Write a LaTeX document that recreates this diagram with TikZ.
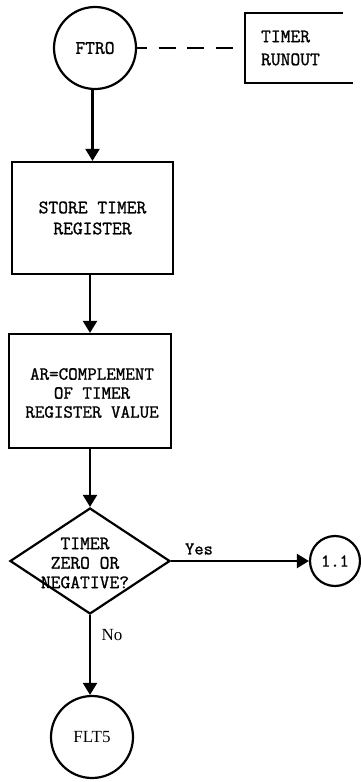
\documentclass[tikz,border=0pt]{standalone}
\usepackage{fontspec}
\newfontfamily\monof{Latin Modern Mono}[FakeBold=1.2]
\newfontfamily\seriff{Liberation Serif}
\usetikzlibrary{arrows.meta,shapes.geometric}
\begin{document}
\begin{tikzpicture}[x=1pt,y=-1pt,line width=2.2pt,
  arr/.style={-{Triangle[width=14pt,length=12pt]}},
  procbox/.style={draw,rectangle,inner sep=0pt,align=center},
  conn/.style={draw,circle,inner sep=0pt},
  txt/.style={inner sep=0pt,align=center}]
\useasboundingbox (0,0) rectangle (360,782);

% start connector
\node[conn,minimum size=82pt,font=\monof\fontsize{19}{20}\selectfont] (ftro) at (95,48) {FTRO};

% timer runout annotation (open bracket box)
\coordinate (tbw) at (245,48);
\draw (343,13) -- (245,13) -- (245,83) -- (353,83);
\node[txt,anchor=west,align=left,font=\monof\fontsize{19}{23}\selectfont] (tr) at (260,48) {TIMER\\RUNOUT};
\draw[dash pattern=on 17pt off 11.5pt,dash phase=7pt] (ftro.east) -- (tbw);

% process boxes
\node[procbox,minimum width=161pt,minimum height=112pt,font=\monof\fontsize{19}{21}\selectfont] (box1) at (92.5,218) {STORE TIMER\\REGISTER};
\node[procbox,minimum width=162pt,minimum height=114pt] (box2) at (90,391) {};
\node[txt,font=\monof\fontsize{18.5}{19}\selectfont] (box2t) at (92,393) {AR=COMPLEMENT\\OF TIMER\\REGISTER VALUE};

% decision
\node[draw,diamond,minimum width=160pt,minimum height=106pt,inner sep=0pt] (dec) at (90,561) {};
\node[txt,font=\monof\fontsize{19}{19.5}\selectfont] (dect) at (85,563) {TIMER\\ZERO OR\\NEGATIVE?};

% off-page / exit connectors
\node[conn,minimum size=50pt,font=\monof\fontsize{18}{18}\selectfont] (c11) at (335,561) {1.1};
\node[conn,minimum size=82pt,font=\seriff\fontsize{17}{20}\selectfont] (flt5) at (92,737) {FLT5};

% connectors
\draw[arr] (ftro.south -| box1.north) -- (box1.north);
\draw[arr] (box1.south -| box2.north) -- (box2.north);
\draw[arr] (box2.south -| dec.north) -- (dec.north);
\draw[arr] (dec.east) -- (c11.west);
\draw[arr] (dec.south) -- (dec.south |- flt5.north);

% branch labels
\node[txt,font=\monof\fontsize{18}{18}\selectfont] (yes) at (199,549) {Yes};
\node[txt,font=\seriff\fontsize{17}{20}\selectfont] (no) at (112,635) {No};
\end{tikzpicture}
\end{document}
